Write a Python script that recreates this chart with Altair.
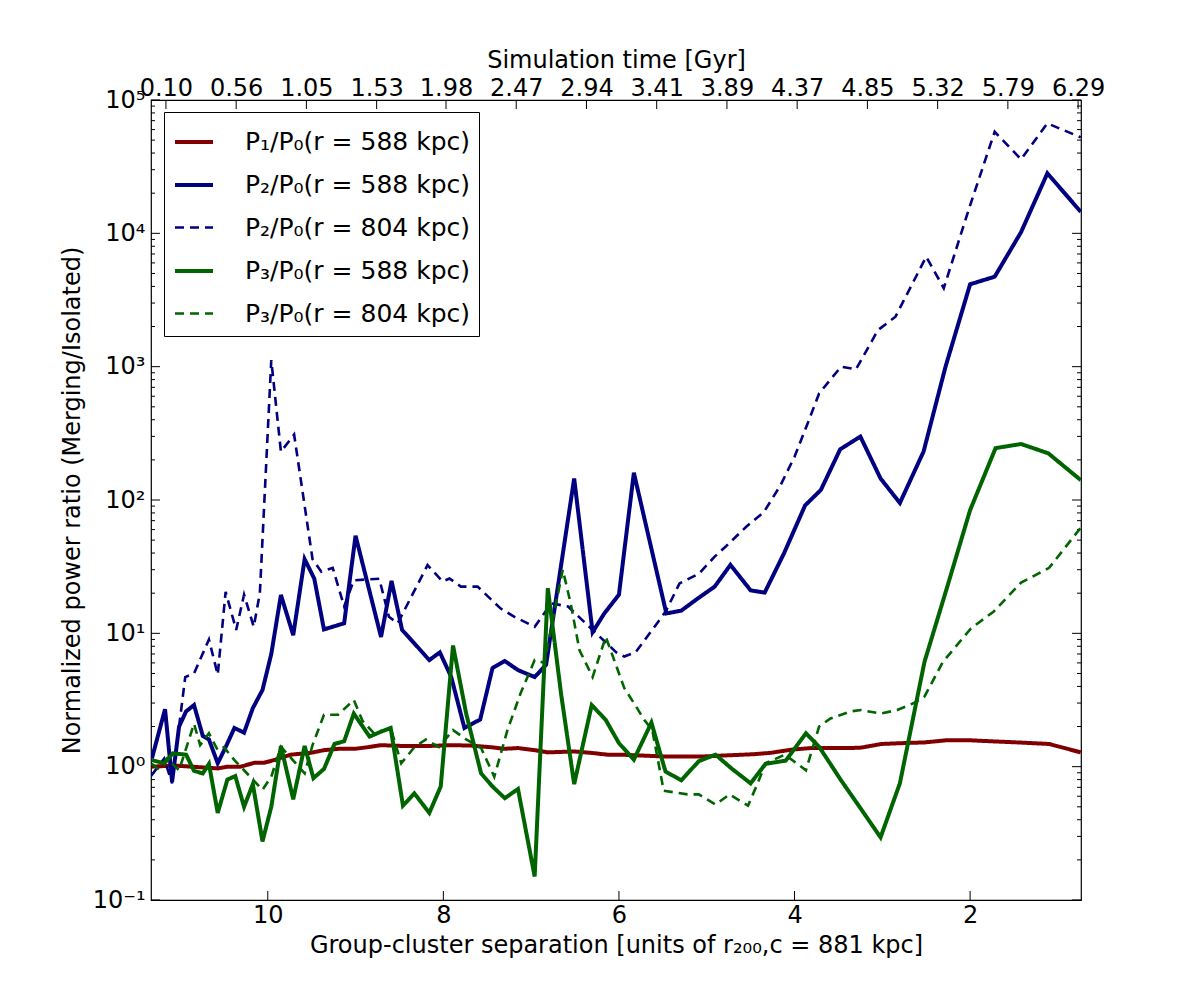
import json
import altair as alt
import pandas as pd

# ---------------- data ----------------
SERIES = [
    "P₁/P₀(r = 588 kpc)",
    "P₂/P₀(r = 588 kpc)",
    "P₂/P₀(r = 804 kpc)",
    "P₃/P₀(r = 588 kpc)",
    "P₃/P₀(r = 804 kpc)",
]
COLORS = ["#800000", "#000080", "#000080", "#006400", "#006400"]
DASHES = [[1, 0], [1, 0], [9, 6], [1, 0], [9, 6]]
WIDTHS = [4, 4, 2.6, 4, 2.6]

P1_588_SEP = [11.32, 11.07, 10.87, 10.57, 10.46, 10.31, 10.15, 10.04, 9.93, 9.74, 9.51, 9.36, 9.20, 9.01,
              8.86, 8.71, 8.48, 8.16, 7.91, 7.69, 7.46, 7.31, 7.15, 6.96, 6.81, 6.51, 6.32, 6.13, 5.98,
              5.45, 5.07, 4.84, 4.46, 4.27, 4.04, 3.81, 3.36, 3.24, 3.01, 2.79, 2.52, 2.26, 2.03, 1.76,
              1.46, 1.10, 0.74]
P1_588_VAL = [1.0, 1.02, 1.0, 0.97, 1.0, 1.0, 1.07, 1.07, 1.12, 1.23, 1.27, 1.33, 1.36, 1.36,
              1.40, 1.45, 1.43, 1.43, 1.45, 1.44, 1.40, 1.36, 1.38, 1.33, 1.28, 1.30, 1.27, 1.23, 1.23,
              1.19, 1.19, 1.21, 1.24, 1.27, 1.34, 1.38, 1.38, 1.39, 1.48, 1.50, 1.52, 1.58, 1.58, 1.55,
              1.52, 1.48, 1.28]

P2_588_SEP = [11.32, 11.17, 11.09, 11.01, 10.93, 10.84, 10.74, 10.67, 10.57, 10.48, 10.38, 10.27, 10.17,
              10.06, 9.96, 9.85, 9.71, 9.58, 9.47, 9.36, 9.13, 9.00, 8.71, 8.59, 8.47, 8.33, 8.16, 8.04,
              7.91, 7.76, 7.58, 7.44, 7.30, 7.15, 6.96, 6.83, 6.51, 6.30, 6.17, 6.00, 5.83, 5.46, 5.29,
              5.10, 4.91, 4.73, 4.50, 4.34, 4.12, 3.88, 3.70, 3.48, 3.25, 3.02, 2.80, 2.53, 2.28, 2.00,
              1.72, 1.42, 1.12, 0.74]
P2_588_VAL = [1.15, 2.7, 0.77, 2.0, 2.6, 2.9, 1.7, 1.6, 1.06, 1.4, 1.95, 1.8, 2.75,
              3.76, 7.0, 19.4, 9.7, 36, 25.7, 10.7, 11.9, 54, 9.4, 24.7, 10.6, 8.4, 6.3, 7.2,
              4.7, 1.95, 2.26, 5.5, 6.2, 5.3, 4.7, 5.8, 145, 10.2, 14, 19.5, 160, 14.1, 14.8,
              18.3, 22.4, 32.6, 21, 20.2, 39.8, 91, 119, 240, 299, 145, 95, 231, 1000, 4150,
              4730, 10200, 28200, 14500]

P2_804_SEP = [11.33, 11.18, 11.09, 11.01, 10.94, 10.84, 10.67, 10.57, 10.48, 10.36, 10.27, 10.16, 10.09,
              9.96, 9.85, 9.70, 9.49, 9.39, 9.26, 9.13, 9.02, 8.73, 8.62, 8.52, 8.18, 8.01, 7.93, 7.80,
              7.61, 7.35, 7.19, 6.96, 6.77, 6.58, 6.32, 6.03, 5.94, 5.81, 5.47, 5.31, 5.09, 4.91, 4.78,
              4.55, 4.35, 4.16, 4.00, 3.85, 3.72, 3.47, 3.30, 3.05, 2.85, 2.50, 2.30, 2.01, 1.72, 1.42,
              1.12, 0.74]
P2_804_VAL = [0.85, 1.15, 0.75, 2.0, 4.7, 5.0, 9.0, 4.9, 20.5, 10.6, 19.5, 11.2, 20,
              1120, 230, 310, 36, 29, 31, 15.9, 25, 25.7, 13.3, 11.9, 32.5, 24.5, 25.8, 22.4,
              22.4, 15.4, 13.3, 11.2, 16.8, 15.9, 10.9, 7.2, 6.7, 7.2, 14.5, 23.7, 28, 37.6, 45,
              63, 81, 129, 211, 376, 630, 1000, 955, 1880, 2370, 6680, 3880, 15500, 57800, 35900,
              66800, 52500]

P3_588_SEP = [11.32, 11.18, 11.08, 10.93, 10.84, 10.74, 10.67, 10.57, 10.46, 10.37, 10.27, 10.17, 10.06,
              9.96, 9.85, 9.71, 9.58, 9.48, 9.36, 9.24, 9.13, 9.02, 8.84, 8.71, 8.60, 8.46, 8.33, 8.16,
              8.03, 7.89, 7.74, 7.57, 7.44, 7.30, 7.15, 6.96, 6.81, 6.66, 6.51, 6.31, 6.15, 6.00, 5.83,
              5.63, 5.47, 5.29, 5.09, 4.90, 4.71, 4.50, 4.33, 4.10, 3.87, 3.72, 3.47, 3.26, 3.02, 2.80,
              2.52, 2.26, 2.00, 1.71, 1.42, 1.11, 0.74]
P3_588_VAL = [1.12, 1.06, 1.26, 1.23, 0.93, 0.89, 1.05, 0.45, 0.8, 0.85, 0.5, 0.74, 0.275,
              0.5, 1.43, 0.57, 1.43, 0.82, 0.96, 1.48, 1.55, 2.5, 1.68, 1.83, 1.95, 0.51, 0.63, 0.45,
              0.71, 8.1, 2.5, 0.89, 0.71, 0.58, 0.68, 0.15, 21.8, 3.55, 0.74, 2.9, 2.24, 1.5, 1.13,
              2.14, 0.92, 0.79, 1.1, 1.23, 0.96, 0.75, 1.05, 1.11, 1.78, 1.41, 0.79, 0.5, 0.295, 0.75,
              6.1, 22.4, 84, 245, 263, 224, 141]

P3_804_SEP = [11.32, 11.24, 11.15, 11.01, 10.84, 10.77, 10.67, 10.57, 10.50, 10.38, 10.27, 10.06, 9.96,
              9.85, 9.58, 9.49, 9.36, 9.20, 9.02, 8.92, 8.79, 8.60, 8.48, 8.33, 8.20, 8.05, 7.89, 7.74,
              7.57, 7.42, 7.27, 7.12, 6.96, 6.85, 6.64, 6.55, 6.45, 6.30, 6.15, 5.94, 5.83, 5.71, 5.62,
              5.49, 5.22, 5.09, 4.90, 4.74, 4.53, 4.42, 4.33, 4.11, 3.87, 3.72, 3.59, 3.36, 3.24, 3.02,
              2.83, 2.64, 2.52, 2.31, 1.99, 1.73, 1.42, 1.10, 0.74]
P3_804_VAL = [1.05, 0.95, 1.15, 0.94, 2.1, 1.45, 1.78, 1.33, 1.4, 1.12, 0.94, 0.67, 0.84,
              1.41, 0.89, 1.45, 2.45, 2.45, 3.16, 2.2, 1.78, 1.95, 1.06, 1.4, 1.6, 1.4, 1.88, 1.6,
              1.38, 0.84, 1.88, 3.55, 6.3, 6.0, 30, 16.8, 7.5, 4.7, 9.4, 3.9, 3.0, 2.24, 1.88,
              0.66, 0.62, 0.62, 0.52, 0.62, 0.51, 0.75, 1.06, 1.23, 0.94, 2.0, 2.3, 2.6, 2.66, 2.5,
              2.66, 3.0, 3.35, 6.1, 10.9, 14.6, 24, 31, 62]

# axes: tick values and labels
X_DOMAIN = [0.737, 11.33]
X_TICKS = [2, 4, 6, 8, 10]
Y_DOMAIN = [0.1, 100000]
Y_MAJOR = [0.1, 1, 10, 100, 1000, 10000, 100000]
Y_MAJOR_LABELS = ["10⁻¹", "10⁰", "10¹", "10²", "10³", "10⁴", "10⁵"]
Y_MINOR = [m * 10.0 ** k for k in range(-1, 5) for m in range(2, 10)]
TOP_TICK_SEP = [11.16, 10.36, 9.56, 8.76, 7.97, 7.17, 6.37, 5.57, 4.77, 3.97, 3.17, 2.37, 1.57, 0.77]
TOP_TICK_LABELS = ["0.10", "0.56", "1.05", "1.53", "1.98", "2.47", "2.94", "3.41", "3.89", "4.37",
                   "4.85", "5.32", "5.79", "6.29"]

W, H = 930, 800
FONT = "DejaVu Sans"

# ---------------- build tables ----------------
rows = []
for name, seps, vals in [
    (SERIES[0], P1_588_SEP, P1_588_VAL),
    (SERIES[1], P2_588_SEP, P2_588_VAL),
    (SERIES[2], P2_804_SEP, P2_804_VAL),
    (SERIES[3], P3_588_SEP, P3_588_VAL),
    (SERIES[4], P3_804_SEP, P3_804_VAL),
]:
    for i, (s, v) in enumerate(zip(seps, vals, strict=True)):
        rows.append({"series": name, "sep": s, "val": v, "order": i})
df = pd.DataFrame(rows)

xscale = alt.Scale(domain=X_DOMAIN, reverse=True, nice=False, zero=False)
yscale = alt.Scale(type="log", domain=Y_DOMAIN, nice=False)

x_axis = alt.Axis(
    values=X_TICKS, format="d", title="Group-cluster separation [units of r₂₀₀,c = 881 kpc]",
    orient="bottom", labelPadding=3, titlePadding=6, labelFlush=False, labelOverlap=False,
)
y_axis = alt.Axis(
    values=Y_MAJOR,
    labelExpr="%s[round(log(datum.value)/LN10)+1]" % json.dumps(Y_MAJOR_LABELS, ensure_ascii=False),
    title="Normalized power ratio (Merging/Isolated)",
    labelPadding=6, titlePadding=8, labelFlush=False, labelOverlap=False,
)
top_axis = alt.Axis(
    values=TOP_TICK_SEP,
    labelExpr="%s[indexof(%s, datum.value)]" % (json.dumps(TOP_TICK_LABELS), json.dumps(TOP_TICK_SEP)),
    title="Simulation time [Gyr]", orient="top",
    labelPadding=0, titlePadding=4, labelFlush=False, labelOverlap=False,
)

X = alt.X("sep:Q", scale=xscale, axis=x_axis)
Y = alt.Y("val:Q", scale=yscale, axis=y_axis)

legend = alt.Legend(title=None)
lines = alt.Chart(df).mark_line(clip=True).encode(
    x=X,
    y=Y,
    color=alt.Color("series:N", scale=alt.Scale(domain=SERIES, range=COLORS), legend=legend),
    strokeDash=alt.StrokeDash("series:N", scale=alt.Scale(domain=SERIES, range=DASHES), legend=legend),
    strokeWidth=alt.StrokeWidth("series:N", scale=alt.Scale(type="ordinal", domain=SERIES, range=WIDTHS),
                                legend=legend),
    order="order:Q",
)

ymaj = pd.DataFrame({"val": Y_MAJOR})
ymin = pd.DataFrame({"val": Y_MINOR})
xmaj = pd.DataFrame({"sep": X_TICKS})
tick_style = dict(color="black", strokeWidth=1)

ymaj_l = alt.Chart(ymaj).mark_rule(**tick_style).encode(y=Y, x=alt.value(0), x2=alt.value(9))
ymaj_r = alt.Chart(ymaj).mark_rule(**tick_style).encode(y=Y, x=alt.value(W - 9), x2=alt.value(W))
ymin_l = alt.Chart(ymin).mark_rule(**tick_style).encode(y=Y, x=alt.value(0), x2=alt.value(4))
ymin_r = alt.Chart(ymin).mark_rule(**tick_style).encode(y=Y, x=alt.value(W - 4), x2=alt.value(W))
xmaj_b = alt.Chart(xmaj).mark_rule(**tick_style).encode(x=X, y=alt.value(H - 9), y2=alt.value(H))

main = alt.layer(ymaj_l, ymaj_r, ymin_l, ymin_r, xmaj_b, lines)

top_df = pd.DataFrame({"sep": TOP_TICK_SEP})
top_ticks = alt.Chart(top_df).mark_rule(**tick_style).encode(
    x=alt.X("sep:Q", scale=xscale, axis=top_axis), y=alt.value(0), y2=alt.value(9)
)

chart = (
    alt.layer(main, top_ticks)
    .resolve_axis(x="independent")
    .properties(width=W, height=H, padding={"left": 52, "top": 40, "right": 40, "bottom": 20},
                background="white")
    .configure_axis(
        labelFont=FONT, titleFont=FONT, labelFontSize=24, titleFontSize=24,
        titleFontWeight="normal", labelColor="black", titleColor="black",
        grid=False, domain=False, ticks=False,
    )
    .configure_legend(
        orient="none", legendX=13, legendY=12, strokeColor="black", fillColor="white",
        padding=9, rowPadding=9, symbolType="stroke", symbolSize=1444,
        labelFont=FONT, labelFontSize=25, labelColor="black", labelOffset=30, labelLimit=400,
        cornerRadius=0,
    )
    .configure_view(stroke="black", strokeWidth=1.2)
)

chart.save("out.html", embed_options={"renderer": "svg", "actions": False})
